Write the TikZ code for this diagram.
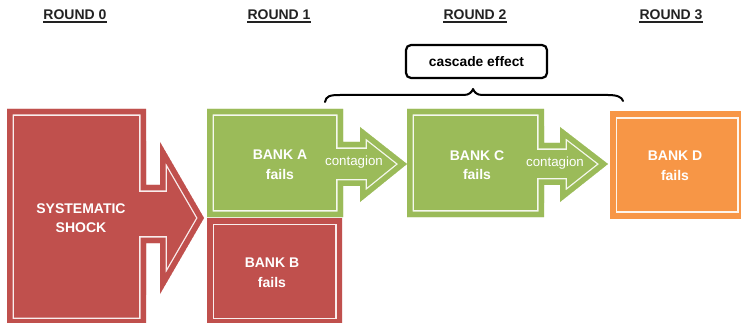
\documentclass[tikz,border=0pt]{standalone}
\usepackage{fontspec}
\setmainfont{Liberation Sans}
\definecolor{bred}{HTML}{C0504D}
\definecolor{bgreen}{HTML}{9BBB59}
\definecolor{borange}{HTML}{F79646}
\definecolor{hdrcol}{HTML}{222222}
\newcommand\panelshape[2]{%
  \begin{scope}
    \clip #2;
    \fill[#1] #2;
    \draw[white!90!#1,line width=13.6pt,miter limit=20] #2;
    \draw[#1,line width=11pt,miter limit=20] #2;
  \end{scope}}
\tikzset{
  lbl/.style={text=white,font=\bfseries\fontsize{14}{19.5}\selectfont,align=center,inner sep=0pt},
  contag/.style={text=white,font=\fontsize{13.3}{16}\selectfont,inner sep=0pt},
  hdr/.style={text=hdrcol,font=\bfseries\fontsize{14}{16}\selectfont,inner sep=0pt,text height=10pt,text depth=0pt},
  uline/.style={draw=hdrcol,line width=1.3pt},
  cascbox/.style={draw=black,line width=2.2pt,rounded corners=5pt,minimum width=141pt,minimum height=33pt,inner sep=0pt,font=\bfseries\fontsize{13.8}{15}\selectfont},
  bracestyle/.style={draw=black,line width=2pt,line cap=round,line join=round}
}
\begin{document}
\begin{tikzpicture}[x=1pt,y=-1pt]
\useasboundingbox (0,0) rectangle (741,323);

% headers
\node[hdr] (r0) at (75,14.5) {ROUND 0};
\node[hdr] (r1) at (279,14.5) {ROUND 1};
\node[hdr] (r2) at (475,14.5) {ROUND 2};
\node[hdr] (r3) at (671,14.5) {ROUND 3};
\foreach \n in {r0,r1,r2,r3}{
  \draw[uline] ([yshift=-2.2pt]\n.south west) -- ([yshift=-2.2pt]\n.south east);
}

% cascade effect
\node[cascbox] (casc) at (476.5,61.5) {cascade effect};
\coordinate (bl) at (325,102);
\coordinate (bt) at (473,89);
\coordinate (br) at (623,101);
\draw[bracestyle] (bl) .. controls (326,96) and (330,95) .. (340,95) -- (464,95)
   .. controls (469,95) and (472,92) .. (bt)
   .. controls (474,92) and (477,95) .. (482,95) -- (608,95)
   .. controls (617,95) and (622,97) .. (br);

% shapes
\panelshape{bred}{(7,109) -- (146,109) -- (146,185) -- (160,185) -- (160,142) -- (204,218) -- (160,294) -- (160,243) -- (146,243) -- (146,324.5) -- (7,324.5) -- cycle}
\panelshape{bgreen}{(207,109) -- (343,109) -- (343,142) -- (360,142) -- (360,127) -- (407,164) -- (360,202) -- (360,186) -- (343,186) -- (343,217) -- (207,217) -- cycle}
\panelshape{bred}{(207,218) -- (342,218) -- (342,324.5) -- (207,324.5) -- cycle}
\panelshape{bgreen}{(407,109) -- (544,109) -- (544,143) -- (560,143) -- (560,127) -- (608,164) -- (560,202) -- (560,185) -- (544,185) -- (544,217) -- (407,217) -- cycle}
\panelshape{borange}{(610,112) -- (744,112) -- (744,218) -- (610,218) -- cycle}

% texts
\node[lbl] (shock) at (81,218) {SYSTEMATIC\\SHOCK};
\node[lbl] (bankA) at (280,165) {BANK A\\fails};
\node[lbl] (bankB) at (272,273) {BANK B\\fails};
\node[lbl] (bankC) at (477,165) {BANK C\\fails};
\node[lbl] (bankD) at (675,166) {BANK D\\fails};
\node[contag] (cA) at (354,162) {contagion};
\node[contag] (cC) at (555,163) {contagion};
\end{tikzpicture}
\end{document}
